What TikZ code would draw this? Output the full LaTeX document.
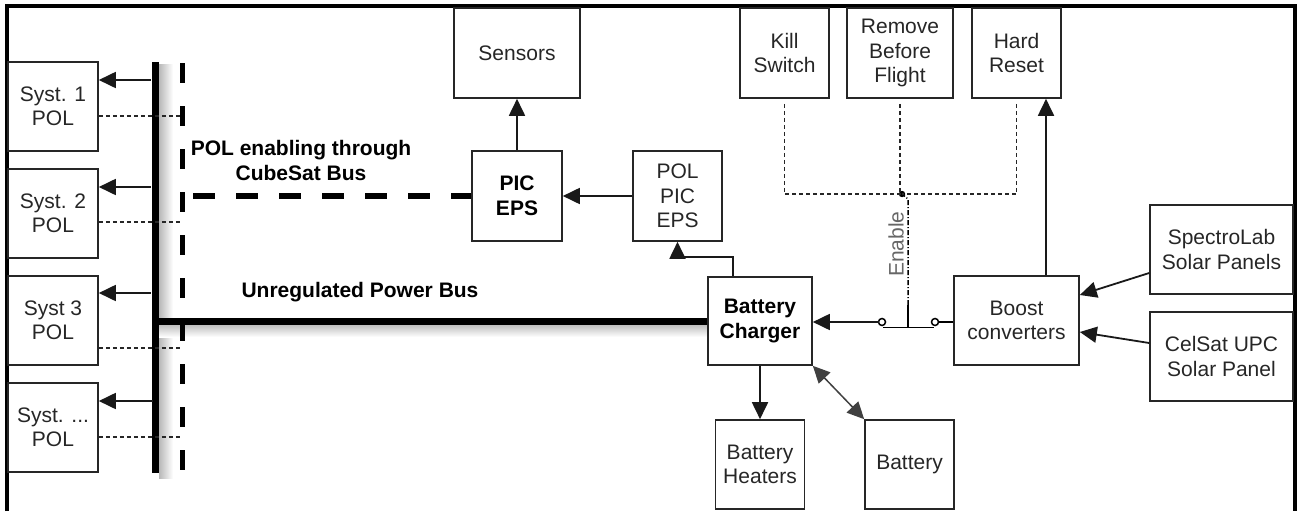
\documentclass[tikz,border=0pt]{standalone}
\usepackage{fontspec}
\setmainfont{Liberation Sans}
\usetikzlibrary{arrows.meta}
\tikzset{
  box/.style={draw=black!85, line width=1.6pt, inner sep=0pt, align=center,
    font=\fontsize{21}{24.5}\selectfont, text=black!85},
  bbox/.style={box, font=\fontsize{21}{24.5}\selectfont\bfseries, text=black},
  lab/.style={inner sep=0pt, align=center, font=\fontsize{21}{25}\selectfont\bfseries},
  tip/.style={-{Triangle[length=17pt,width=16pt]}},
  arr/.style={line width=1.8pt, draw=black!90, tip},
  dots/.style={line width=1.6pt, dash pattern=on 4pt off 3pt, draw=black!85},
}
\begin{document}
\begin{tikzpicture}[x=1pt,y=-1pt]
\useasboundingbox (0,0) rectangle (1297,511);
% frame
\draw[line width=4pt, line join=miter] (7,511) -- (7,6.5) -- (1294.5,6.5) -- (1294.5,511);

% shadows of the power bus
\fill[left color=black!28, right color=white] (159,64) rectangle (173,478);
\fill[top color=black!28, bottom color=white] (159,323.5) rectangle (708,337);

% boxes
\node[box, minimum width=90pt, minimum height=89pt] (s1) at (53,106.5) {Syst. 1\\POL};
\node[box, minimum width=90pt, minimum height=89pt] (s2) at (53,213.5) {Syst. 2\\POL};
\node[box, minimum width=90pt, minimum height=89pt] (s3) at (53,320.5) {Syst 3\\POL};
\node[box, minimum width=90pt, minimum height=89pt] (s4) at (53,427.5) {Syst. ...\\POL};
\node[box, minimum width=126pt, minimum height=90pt] (sensors) at (517,53) {Sensors};
\node[bbox, minimum width=90pt, minimum height=90pt] (pic) at (517,196) {PIC\\EPS};
\node[box, minimum width=89pt, minimum height=90pt] (polpic) at (677.5,196) {POL\\PIC\\EPS};
\node[bbox, minimum width=104pt, minimum height=88pt] (charger) at (760,321) {Battery\\Charger};
\node[box, minimum width=89pt, minimum height=90pt] (kill) at (784.5,53) {Kill\\Switch};
\node[box, minimum width=106pt, minimum height=90pt] (rbf) at (900,53) {Remove\\Before\\Flight};
\node[box, minimum width=89pt, minimum height=90pt] (hard) at (1016.5,53) {Hard\\Reset};
\node[box, minimum width=125pt, minimum height=89pt] (boost) at (1016.5,320.5) {Boost\\converters};
\node[box, minimum width=143pt, minimum height=89pt] (spectro) at (1221.5,249.5) {SpectroLab\\Solar Panels};
\node[box, minimum width=143pt, minimum height=89pt] (celsat) at (1221.5,356.5) {CelSat UPC\\Solar Panel};
\node[box, minimum width=89pt, minimum height=89pt] (heaters) at (760,464.5) {Battery\\Heaters};
\node[box, minimum width=89pt, minimum height=89pt] (battery) at (909.5,464.5) {Battery};

% buses
\coordinate (busT) at (155.5,62);
\coordinate (busB) at (155.5,473);
\coordinate (busJ) at (152,321);
\coordinate (cbT) at (182.5,63);
\coordinate (cbB) at (182.5,470);
\coordinate (cbJ) at (193,196);
\draw[line width=7pt] (busT) -- (busB);
\draw[line width=7pt] (busJ) -- (charger.west);
\draw[line width=5pt, dash pattern=on 20pt off 23pt] (cbT) -- (cbB);
\draw[line width=6pt, dash pattern=on 22pt off 21pt] (cbJ) -- (pic.west);

% bus labels
\node[lab] (t1) at (301,160.5) {POL enabling through\\CubeSat Bus};
\node[lab] (t2) at (360,292) {Unregulated Power Bus};

% system feeds
\draw[arr] ([shift={(52pt,26.5pt)}]s1.east) -- ([yshift=26.5pt]s1.east);
\draw[arr] ([shift={(52pt,26.5pt)}]s2.east) -- ([yshift=26.5pt]s2.east);
\draw[arr] ([shift={(52pt,27.5pt)}]s3.east) -- ([yshift=27.5pt]s3.east);
\draw[arr] ([shift={(54pt,26.5pt)}]s4.east) -- ([yshift=26.5pt]s4.east);
\draw[dots] ([yshift=-9.5pt]s1.east) -- ++(82,0);
\draw[dots] ([yshift=-8.5pt]s2.east) -- ++(82,0);
\draw[dots] ([yshift=-27.5pt]s3.east) -- ++(82,0);
\draw[dots] ([yshift=-9.5pt]s4.east) -- ++(82,0);

% EPS chain
\draw[arr] (pic.north) -- (sensors.south);
\draw[arr] (polpic.west) -- (pic.east);
\draw[arr] ([xshift=-27pt]charger.north) -- ++(0,-19) -| (polpic.south);
\draw[arr] (charger.south) -- (heaters.north);
\draw[line width=1.5pt, draw=black!75, {Triangle[length=17pt,width=16pt]}-{Triangle[length=17pt,width=16pt]}]
  (charger.south east) -- (battery.north west);

% switch
\coordinate (swL) at (882,322);
\coordinate (swR) at (935,322);
\coordinate (barL) at (883,327.5);
\coordinate (barR) at (934,327.5);
\coordinate (barM) at (908,327.5);
\coordinate (enS) at (908,305);
\coordinate (enT) at (908,199);
\coordinate (junc) at (902,194);
\draw[line width=1.5pt] (swL) circle[radius=3.5pt];
\draw[line width=1.5pt] (swR) circle[radius=3.5pt];
\draw[arr] ([xshift=-3.5pt]swL) -- (charger.east |- swL);
\draw[line width=1.8pt] (boost.west |- swR) -- ([xshift=3.5pt]swR);
\draw[line width=1.8pt] (barL) -- (barR);
\draw[line width=1.6pt] (barM) -- (enS);
\draw[line width=1.5pt, dash pattern=on 5pt off 2pt on 1pt off 2pt] (enS) -- (enT) -- (junc);
\fill (junc) circle[radius=3.2pt];
\node[rotate=90, inner sep=0pt, text=black!60, font=\fontsize{21}{25}\selectfont] (en) at (896,244) {Enable};

% enable sources
\draw[dots] ([yshift=-5pt]kill.south) |- (junc);
\draw[dots] ([yshift=-5pt]rbf.south) -- (rbf.south |- junc);
\draw[dots] ([yshift=-5pt]hard.south) |- (junc);

% boost outputs and inputs
\draw[arr] ([xshift=29.5pt]boost.north) -- ([xshift=29.5pt]boost.north |- hard.south);
\draw[arr] ([yshift=-23.5pt]spectro.west) -- ([yshift=25.5pt]boost.east);
\draw[arr] ([yshift=13.5pt]celsat.west) -- ([yshift=-11.5pt]boost.east);
\end{tikzpicture}
\end{document}
